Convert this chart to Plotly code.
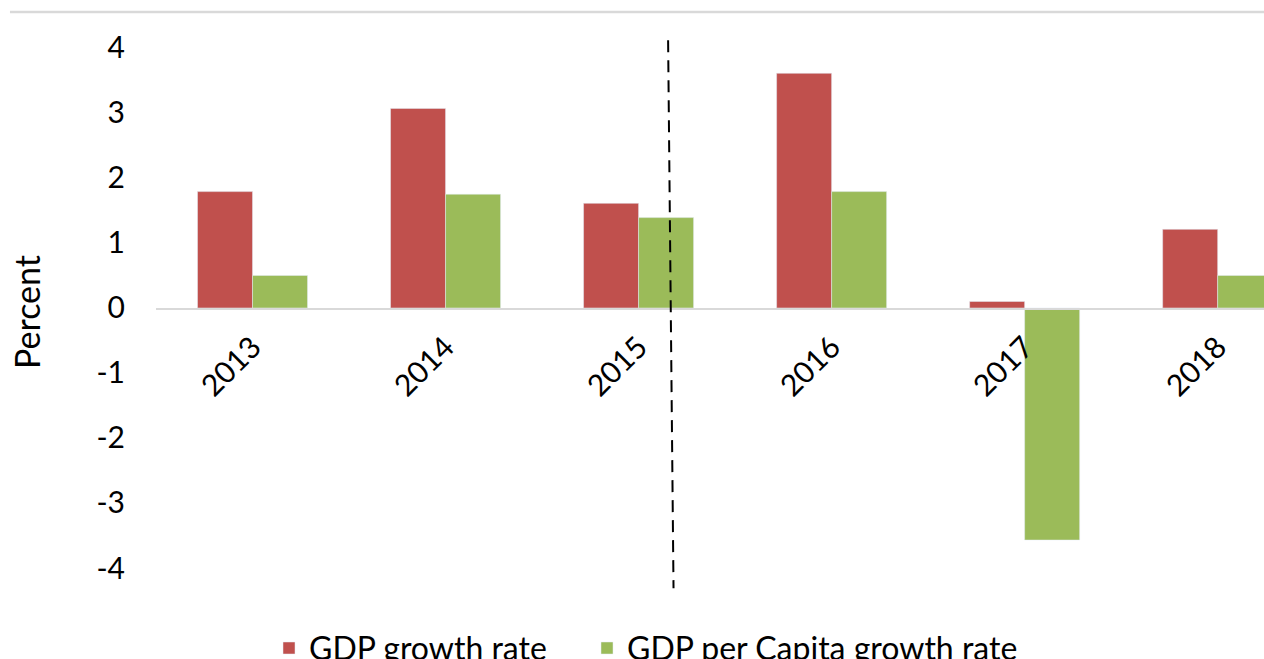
import plotly.graph_objects as go

years = ["2013", "2014", "2015", "2016", "2017", "2018"]
gdp_growth = [1.79, 3.07, 1.61, 3.61, 0.10, 1.21]
gdp_pc_growth = [0.50, 1.75, 1.39, 1.79, -3.57, 0.50]
y_ticks = [-4, -3, -2, -1, 0, 1, 2, 3, 4]
y_tick_text = ["-4", "-3", "-2", "-1", "0", "1", "2", "3", "4"]

FONT = "Lato"
fig = go.Figure()
fig.add_bar(x=years, y=gdp_growth, name="GDP growth rate", marker_color="#C0504D",
            legend="legend")
fig.add_bar(x=years, y=gdp_pc_growth, name="GDP per Capita growth rate", marker_color="#9BBB59",
            legend="legend2")

leg_common = dict(orientation="h", xanchor="left", y=-0.047, yanchor="middle",
                  font=dict(size=32, family=FONT), itemwidth=30, bgcolor="rgba(0,0,0,0)")

fig.update_layout(
    width=1264, height=659,
    margin=dict(l=156, r=0, t=20, b=39, autoexpand=False),
    paper_bgcolor="white", plot_bgcolor="white",
    barmode="group", bargap=0.43, bargroupgap=0,
    font=dict(family=FONT, color="#000000"),
    showlegend=True,
    legend=dict(x=(269 - 156) / 1108, **leg_common),
    legend2=dict(x=(587 - 156) / 1108, **leg_common),
    xaxis=dict(type="category", range=[-0.5, 5.24], anchor="free", position=(620 - 308.5) / 600,
               showline=True, linecolor="#d9d9d9", linewidth=2, showgrid=False, zeroline=False,
               tickangle=-45, tickfont=dict(size=30, family=FONT), ticks="", ticklabelstandoff=8),
    yaxis=dict(range=[-4.8, 4.43], tickvals=y_ticks, ticktext=y_tick_text, showgrid=False,
               zeroline=False, showline=False, tickfont=dict(size=30, family=FONT), ticks="",
               ticklabelstandoff=30),
    annotations=[dict(text="Percent", xref="paper", yref="paper", x=(26 - 156) / 1108,
                      y=(620 - 312) / 600, textangle=-90, showarrow=False,
                      font=dict(size=34, family=FONT), xanchor="center", yanchor="middle")],
    shapes=[
        dict(type="line", xref="x", yref="y", x0=2.153, x1=2.181, y0=4.12, y1=-4.31,
             line=dict(color="black", width=2, dash="12px,8px")),
        dict(type="line", xref="paper", yref="paper", x0=-0.1318, x1=1.05,
             y0=(620 - 12) / 600, y1=(620 - 12) / 600,
             line=dict(color="#d9d9d9", width=2.5)),
    ],
)
fig.write_html("out.html", config={"displayModeBar": False},
               post_script="document.body.style.margin='0';document.body.style.overflow='hidden';")
